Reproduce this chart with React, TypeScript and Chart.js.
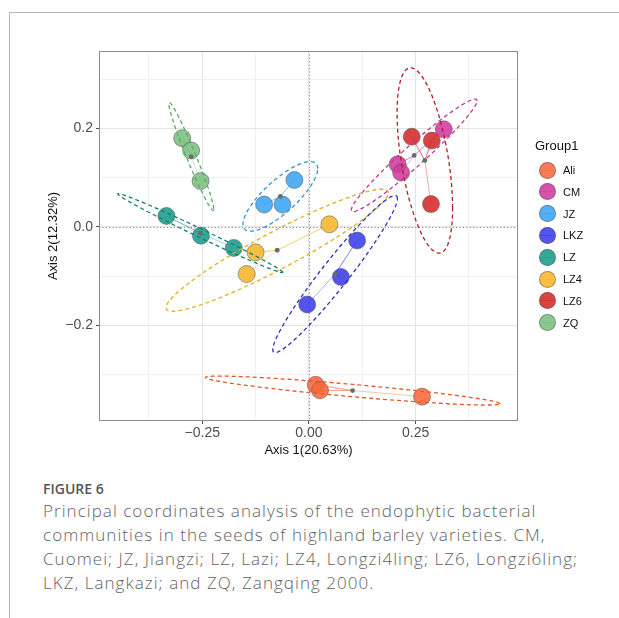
import React, { useEffect, useRef } from "react";
import { Chart, registerables } from "chart.js";

Chart.register(...registerables);

// ---- data ----
const groups = ["Ali", "CM", "JZ", "LKZ", "LZ", "LZ4", "LZ6", "ZQ"];

const aliAxis1 = [0.016, 0.026, 0.265];
const aliAxis2 = [-0.321, -0.332, -0.345];
const cmAxis1 = [0.316, 0.208, 0.216];
const cmAxis2 = [0.198, 0.127, 0.11];
const jzAxis1 = [-0.034, -0.105, -0.062];
const jzAxis2 = [0.095, 0.045, 0.045];
const lkzAxis1 = [0.113, 0.075, -0.004];
const lkzAxis2 = [-0.028, -0.102, -0.158];
const lzAxis1 = [-0.334, -0.253, -0.176];
const lzAxis2 = [0.022, -0.018, -0.043];
const lz4Axis1 = [-0.125, 0.048, -0.146];
const lz4Axis2 = [-0.052, 0.005, -0.096];
const lz6Axis1 = [0.241, 0.288, 0.286];
const lz6Axis2 = [0.183, 0.175, 0.046];
const zqAxis1 = [-0.297, -0.276, -0.254];
const zqAxis2 = [0.18, 0.155, 0.093];

const groupAxis1 = [aliAxis1, cmAxis1, jzAxis1, lkzAxis1, lzAxis1, lz4Axis1, lz6Axis1, zqAxis1];
const groupAxis2 = [aliAxis2, cmAxis2, jzAxis2, lkzAxis2, lzAxis2, lz4Axis2, lz6Axis2, zqAxis2];

const pointColors = ["#F8693B", "#D23A9E", "#3AA5F2", "#3B3BEB", "#1A9C8B", "#F6B72A", "#D42A28", "#79C07E"];
const ellipseColors = ["#E5572A", "#C0399A", "#2F96D6", "#3030B8", "#137F70", "#E8AE1C", "#B01E22", "#5AAA66"];

const xTickValues = [-0.25, 0, 0.25];
const xTickLabels = ["\u22120.25", "0.00", "0.25"];
const xMinorValues = [-0.375, -0.125, 0.125, 0.375];
const yTickValues = [-0.2, 0, 0.2];
const yTickLabels = ["\u22120.2", "0.0", "0.2"];
const yMinorValues = [-0.3, -0.1, 0.1, 0.3];
const xLimits = [-0.492, 0.49];
const yLimits = [-0.3945, 0.357];

const xTitle = "Axis 1(20.63%)";
const yTitle = "Axis 2(12.32%)";
const legendTitle = "Group1";
const CHI2_95_2DF = 5.991;

// ---- helpers ----
function alpha(hex: string, a: number) {
  const n = parseInt(hex.slice(1), 16);
  return `rgba(${(n >> 16) & 255},${(n >> 8) & 255},${n & 255},${a})`;
}
function mean(v: number[]) {
  return v.reduce((s, d) => s + d, 0) / v.length;
}
function ellipsePoints(xs: number[], ys: number[], steps = 160) {
  const n = xs.length;
  const mx = mean(xs), my = mean(ys);
  let sxx = 0, syy = 0, sxy = 0;
  for (let i = 0; i < n; i++) {
    sxx += (xs[i] - mx) ** 2;
    syy += (ys[i] - my) ** 2;
    sxy += (xs[i] - mx) * (ys[i] - my);
  }
  sxx /= n - 1; syy /= n - 1; sxy /= n - 1;
  const r = Math.sqrt(CHI2_95_2DF);
  const a = Math.sqrt(sxx);
  const b = sxy / a;
  const c = Math.sqrt(Math.max(syy - b * b, 0));
  const out: { x: number; y: number }[] = [];
  for (let k = 0; k <= steps; k++) {
    const t = (2 * Math.PI * k) / steps;
    out.push({ x: mx + r * a * Math.cos(t), y: my + r * (b * Math.cos(t) + c * Math.sin(t)) });
  }
  return out;
}
const near = (v: number, arr: number[]) => arr.some((a) => Math.abs(a - v) < 1e-6);

const panelPlugin = {
  id: "panelDecor",
  beforeDatasetsDraw(chart: any) {
    const { ctx, chartArea: a, scales } = chart;
    const x0 = Math.round(scales.x.getPixelForValue(0)) + 0.5;
    const y0 = Math.round(scales.y.getPixelForValue(0)) + 0.5;
    ctx.save();
    ctx.strokeStyle = "#8a8a8a";
    ctx.lineWidth = 1;
    ctx.setLineDash([1.2, 2.2]);
    ctx.beginPath();
    ctx.moveTo(x0, a.top); ctx.lineTo(x0, a.bottom);
    ctx.moveTo(a.left, y0); ctx.lineTo(a.right, y0);
    ctx.stroke();
    ctx.restore();
  },
  afterDraw(chart: any) {
    const { ctx, chartArea: a } = chart;
    ctx.save();
    ctx.strokeStyle = "#8c8c8c";
    ctx.lineWidth = 1;
    ctx.strokeRect(Math.round(a.left) + 0.5, Math.round(a.top) + 0.5, Math.round(a.right - a.left) - 1, Math.round(a.bottom - a.top) - 1);
    ctx.restore();
  },
};

function PcoaChart() {
  const ref = useRef<HTMLCanvasElement | null>(null);
  useEffect(() => {
    if (!ref.current) return;
    const datasets: any[] = [];
    groups.forEach((g, i) => {
      const xs = groupAxis1[i], ys = groupAxis2[i];
      const c = { x: mean(xs), y: mean(ys) };
      const pts = xs.map((x, k) => ({ x, y: ys[k] }));
      const spider: any[] = [];
      pts.forEach((p) => { spider.push(c); spider.push(p); });
      datasets.push({
        label: g + " links", data: spider, showLine: true, pointRadius: 0,
        borderColor: alpha(pointColors[i], 0.4), borderWidth: 1, order: 5,
      });
      datasets.push({
        label: g, data: pts, pointRadius: 8.5, pointHoverRadius: 8.5,
        backgroundColor: alpha(pointColors[i], 0.88), borderColor: "rgba(90,90,90,0.55)",
        borderWidth: 1, order: 4,
      });
      datasets.push({
        label: g + " ellipse", data: ellipsePoints(xs, ys), showLine: true, pointRadius: 0,
        borderColor: ellipseColors[i], borderWidth: 1.3, borderDash: [4, 3], tension: 0, order: 2,
      });
      datasets.push({
        label: g + " centroid", data: [c], pointRadius: 2.4, backgroundColor: "#6b6b6b",
        borderWidth: 0, order: 1,
      });
    });

    const tickFont = { family: "'Liberation Sans', Arial, sans-serif", size: 14 };
    const titleFont = { family: "'Liberation Sans', Arial, sans-serif", size: 13 };
    const chart = new Chart(ref.current, {
      type: "scatter",
      data: { datasets },
      plugins: [panelPlugin],
      options: {
        animation: false,
        responsive: false,
        events: [],
        layout: { padding: { left: 39, top: 51, right: 101, bottom: 9 } },
        plugins: { legend: { display: false }, tooltip: { enabled: false } },
        scales: {
          x: {
            type: "linear", min: xLimits[0], max: xLimits[1],
            border: { display: false },
            afterBuildTicks: (s: any) => {
              s.ticks = [...xMinorValues, ...xTickValues].sort((a, b) => a - b).map((v) => ({ value: v }));
            },
            afterFit: (s: any) => { s.height = 40; },
            grid: {
              color: (ctx: any) => (near(ctx.tick?.value, xTickValues) ? "#e4e4e4" : "#f1f1f1"),
              tickColor: (ctx: any) => (near(ctx.tick?.value, xTickValues) ? "#4d4d4d" : "rgba(0,0,0,0)"),
              tickLength: 3, lineWidth: 1,
            },
            ticks: {
              autoSkip: false, maxRotation: 0, padding: 1, color: "#4d4d4d", font: tickFont,
              callback: (v: any) => {
                const idx = xTickValues.findIndex((t) => Math.abs(t - v) < 1e-6);
                return idx >= 0 ? xTickLabels[idx] : "";
              },
            },
            title: { display: true, text: xTitle, color: "#111", font: titleFont, padding: { top: 0, bottom: 3 } },
          },
          y: {
            type: "linear", min: yLimits[0], max: yLimits[1],
            border: { display: false },
            afterBuildTicks: (s: any) => {
              s.ticks = [...yMinorValues, ...yTickValues].sort((a, b) => a - b).map((v) => ({ value: v }));
            },
            afterFit: (s: any) => { s.width = 60; },
            grid: {
              color: (ctx: any) => (near(ctx.tick?.value, yTickValues) ? "#e4e4e4" : "#f1f1f1"),
              tickColor: (ctx: any) => (near(ctx.tick?.value, yTickValues) ? "#4d4d4d" : "rgba(0,0,0,0)"),
              tickLength: 3, lineWidth: 1,
            },
            ticks: {
              autoSkip: false, padding: 3, color: "#4d4d4d", font: tickFont,
              callback: (v: any) => {
                const idx = yTickValues.findIndex((t) => Math.abs(t - v) < 1e-6);
                return idx >= 0 ? yTickLabels[idx] : "";
              },
            },
            title: { display: true, text: yTitle, color: "#111", font: titleFont, padding: { top: 7, bottom: 0 } },
          },
        },
      },
    } as any);
    return () => chart.destroy();
  }, []);
  return <canvas ref={ref} width={619} height={470} style={{ position: "absolute", left: 0, top: 0, width: 619, height: 470 }} />;
}

export default function App() {
  const legendFont = "'Liberation Sans', Arial, sans-serif";
  return (
    <div style={{ position: "absolute", left: 0, top: 0, width: 619, height: 618, background: "#fff", overflow: "hidden" }}>
      <div style={{ position: "absolute", left: 9, top: 12, width: 620, height: 620, borderTop: "1.5px solid #b3b3b3", borderLeft: "1.5px solid #b3b3b3" }} />
      <PcoaChart />
      <div style={{ position: "absolute", left: 535, top: 137, fontFamily: legendFont, fontSize: 13, color: "#111", lineHeight: "18px" }}>{legendTitle}</div>
      {groups.map((g, i) => {
        const cy = 170 + i * 21.8;
        return (
          <div key={g}>
            <div style={{ position: "absolute", left: 538.5, top: cy - 8.5, width: 15, height: 15, borderRadius: "50%", background: alpha(pointColors[i], 0.88), border: "1px solid rgba(90,90,90,0.5)" }} />
            <div style={{ position: "absolute", left: 540, top: cy - 0.5, width: 13, height: 1, background: alpha(pointColors[i], 0.6) }} />
            <div style={{ position: "absolute", left: 563, top: cy - 7, fontFamily: legendFont, fontSize: 11, color: "#111", lineHeight: "14px" }}>{g}</div>
          </div>
        );
      })}
      <div style={{ position: "absolute", left: 43, top: 480, fontFamily: "'Open Sans', sans-serif", fontWeight: 600, fontSize: 14, color: "#555", lineHeight: "18px" }}>FIGURE 6</div>
      <div style={{ position: "absolute", left: 43, top: 499, width: 576, fontFamily: "'Open Sans', sans-serif", fontWeight: 300, fontSize: 17, letterSpacing: "1.05px", color: "#626262", lineHeight: "24px", whiteSpace: "nowrap" }}>
        Principal coordinates analysis of the endophytic bacterial<br />
        communities in the seeds of highland barley varieties. CM,<br />
        Cuomei; JZ, Jiangzi; LZ, Lazi; LZ4, Longzi4ling; LZ6, Longzi6ling;<br />
        LKZ, Langkazi; and ZQ, Zangqing 2000.
      </div>
    </div>
  );
}
